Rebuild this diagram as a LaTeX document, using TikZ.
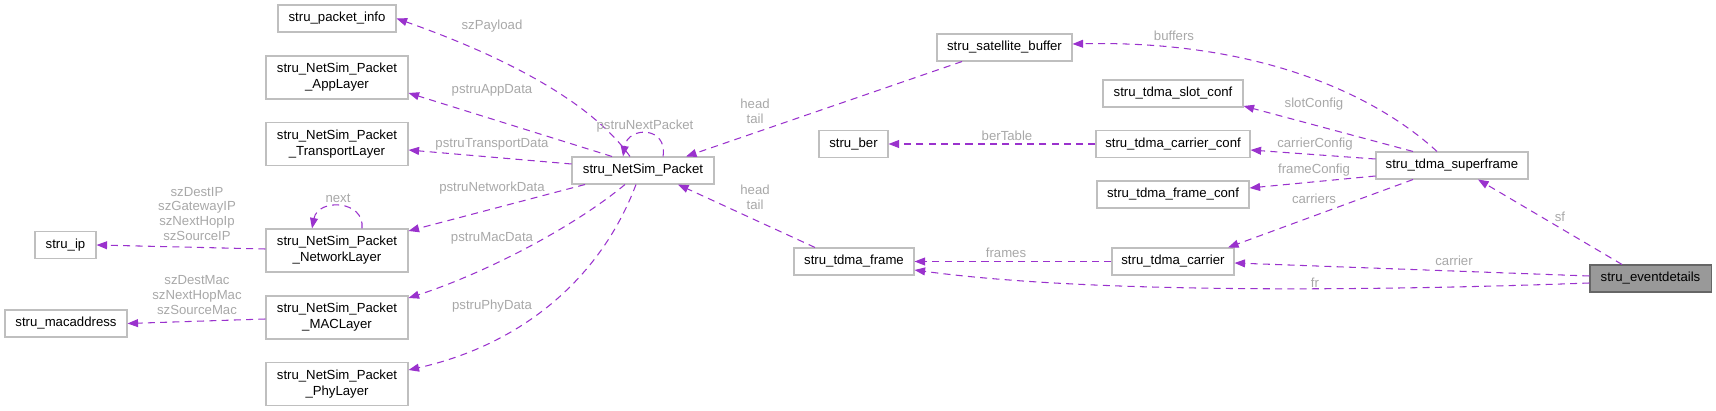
\documentclass[tikz,border=0pt]{standalone}
\usepackage{fontspec}
\setmainfont{Liberation Sans}
\usetikzlibrary{arrows.meta}
\definecolor{edgepurple}{HTML}{9A32CD}
\definecolor{boxgray}{HTML}{BFBFBF}
\definecolor{lblgray}{HTML}{A8A8A8}
\begin{document}
\begin{tikzpicture}[x=0.02cm,y=-0.02cm,
  >={Triangle[length=6pt,width=4.5pt]},
  cls/.style={draw=boxgray,line width=0.6pt,fill=white,inner sep=0pt,
    minimum height=27*0.02cm,align=center,font=\fontsize{7.5}{9}\selectfont},
  cls2/.style={cls,minimum height=43*0.02cm},
  dep/.style={edgepurple,dashed,dash pattern=on 4pt off 3pt,line width=0.6pt,->},
  lbl/.style={text=lblgray,font=\fontsize{7.5}{8.5}\selectfont,inner sep=0pt,align=center}]
  \useasboundingbox (0,0) rectangle (1716,411);
  %
  % Classes
  \node[cls,minimum width=118*0.02cm] (info) at (337,18.5) {stru\_packet\_info};
  \node[cls2,minimum width=142*0.02cm] (app) at (337,77.5) {stru\_NetSim\_Packet\\\_AppLayer};
  \node[cls2,minimum width=142*0.02cm] (transport) at (337,144) {stru\_NetSim\_Packet\\\_TransportLayer};
  \node[cls2,minimum width=142*0.02cm] (network) at (337,250.5) {stru\_NetSim\_Packet\\\_NetworkLayer};
  \node[cls2,minimum width=142*0.02cm] (mac) at (337,317.5) {stru\_NetSim\_Packet\\\_MACLayer};
  \node[cls2,minimum width=142*0.02cm] (phy) at (337,384) {stru\_NetSim\_Packet\\\_PhyLayer};
  \node[cls,minimum width=61*0.02cm] (ip) at (65.5,245) {stru\_ip};
  \node[cls,minimum width=122*0.02cm] (macaddr) at (66,323.5) {stru\_macaddress};
  \node[cls,minimum width=142*0.02cm] (packet) at (643,170.5) {stru\_NetSim\_Packet};
  \node[cls,minimum width=135*0.02cm] (satbuf) at (1004.5,47.5) {stru\_satellite\_buffer};
  \node[cls,minimum width=69*0.02cm] (ber) at (853.5,144) {stru\_ber};
  \node[cls,minimum width=120*0.02cm] (frame) at (854,261.5) {stru\_tdma\_frame};
  \node[cls,minimum width=140*0.02cm] (slotconf) at (1173,93.5) {stru\_tdma\_slot\_conf};
  \node[cls,minimum width=154*0.02cm] (carrierconf) at (1173,144) {stru\_tdma\_carrier\_conf};
  \node[cls,minimum width=152*0.02cm] (frameconf) at (1173,194.5) {stru\_tdma\_frame\_conf};
  \node[cls,minimum width=122*0.02cm] (carrier) at (1173,261.5) {stru\_tdma\_carrier};
  \node[cls,minimum width=152*0.02cm] (superframe) at (1452,165.5) {stru\_tdma\_superframe};
  \node[cls,minimum width=121*0.02cm,fill={rgb,255:red,153;green,153;blue,153},draw={rgb,255:red,102;green,102;blue,102}]
    (event) at (1650.5,278.5) {stru\_eventdetails};
  %
  % Packet members
  \draw[dep] (packet.north -| 630,0) .. controls (590,100) and (500,55) .. (info.east)
    node[lbl,at={(492,26)}] {szPayload};
  \draw[dep] (packet.north -| 612,0) -- (app.east |- 0,93) node[lbl,at={(492,90)}] {pstruAppData};
  \draw[dep] (packet.west |- 0,164) -- (transport.east |- 0,150) node[lbl,at={(492,144)}] {pstruTransportData};
  \draw[dep] (packet.south -| 585,0) -- (network.east |- 0,231) node[lbl,at={(492,188)}] {pstruNetworkData};
  \draw[dep] (packet.south -| 625,0) .. controls (570,230) and (480,275) .. (mac.east |- 0,298)
    node[lbl,at={(492,238)}] {pstruMacData};
  \draw[dep] (packet.south -| 636,0) .. controls (600,280) and (520,345) .. (phy.east |- 0,370)
    node[lbl,at={(492,306)}] {pstruPhyData};
  \draw[dep] (packet.north -| 663,0) .. controls (668,126) and (628,126) .. (packet.north -| 623,0)
    node[lbl,at={(645,126)}] {pstruNextPacket};
  %
  % Layer members
  \draw[dep] (network.north -| 362,0) .. controls (365,200) and (318,198) .. (network.north -| 312,0)
    node[lbl,at={(338,198)}] {next};
  \draw[dep] (network.west |- 0,249) -- (ip.east) node[lbl,at={(197,214)}] {szDestIP\\szGatewayIP\\szNextHopIp\\szSourceIP};
  \draw[dep] (mac.west |- 0,319) -- (macaddr.east) node[lbl,at={(197,295)}] {szDestMac\\szNextHopMac\\szSourceMac};
  %
  % TDMA structures
  \draw[dep] (satbuf.south -| 962,0) -- (packet.north -| 686,0) node[lbl,at={(755,111)}] {head\\tail};
  \draw[dep] (frame.north -| 815,0) -- (packet.south -| 678,0) node[lbl,at={(755,197)}] {head\\tail};
  \draw[dep] (carrierconf) -- (ber) node[lbl,at={(1007,136)}] {berTable};
  \draw[dep] (superframe.north -| 1437,0) .. controls (1370,90) and (1250,40) .. (satbuf.east |- 0,44)
    node[lbl,at={(1174,36)}] {buffers};
  \draw[dep] (superframe.north -| 1413,0) -- (slotconf.east |- 0,106) node[lbl,at={(1314,104)}] {slotConfig};
  \draw[dep] (superframe.west |- 0,159) -- (carrierconf.east |- 0,150) node[lbl,at={(1315,144)}] {carrierConfig};
  \draw[dep] (superframe.west |- 0,176) -- (frameconf.east |- 0,188) node[lbl,at={(1314,170)}] {frameConfig};
  \draw[dep] (superframe.south -| 1413,0) -- (carrier.north -| 1228,0) node[lbl,at={(1314,199)}] {carriers};
  \draw[dep] (carrier) -- (frame) node[lbl,at={(1006,253)}] {frames};
  \draw[dep] (event.north -| 1622,0) -- (superframe.south -| 1478,0) node[lbl,at={(1560,217)}] {sf};
  \draw[dep] (event.west |- 0,276) -- (carrier.east |- 0,263) node[lbl,at={(1454,261)}] {carrier};
  \draw[dep] (event.west |- 0,283) .. controls (1400,290) and (1100,295) .. (frame.east |- 0,270)
    node[lbl,at={(1315,283)}] {fr};
\end{tikzpicture}
\end{document}
